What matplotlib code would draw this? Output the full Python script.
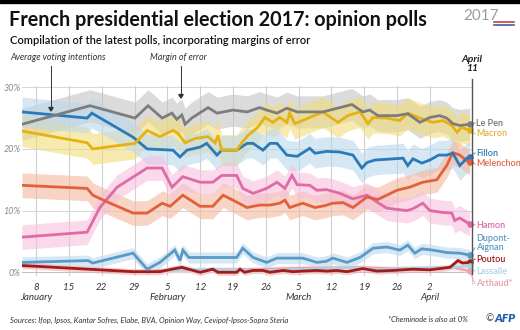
import matplotlib
matplotlib.use("Agg")
import matplotlib.pyplot as plt
import numpy as np
from matplotlib.lines import Line2D
from matplotlib.patches import Rectangle

plt.rcParams['font.family'] = ['Lato', 'DejaVu Sans']

# ---------------- data (x = day of year 2017, values in %) ----------------
lepen_x = [5, 19.5, 29.1, 31.9, 34.9, 37, 38, 39.1, 39.8, 41.2, 44.7, 46.6, 50, 53, 55.7, 57.2, 59.4,
           61.5, 63.7, 66.4, 69.2, 72.8, 75.4, 77.7, 79.2, 80.9, 85, 87.3, 89.9, 92, 94.1, 95.6, 96.9, 98.4, 100.5]
lepen_y = [24, 27, 25, 27, 25, 25.8, 24.8, 25.5, 24, 25, 26.7, 25.8, 26.3, 26, 26.7, 26.3, 25.8,
           26.6, 26, 26, 26, 26.7, 27.2, 26, 26.3, 25.4, 25.4, 25.7, 24.3, 25.1, 25.4, 25, 24.1, 23.8, 24]

macron_x = [5, 18.9, 20.1, 29.1, 31.7, 34.4, 37.2, 38.3, 39.8, 41.9, 44.7, 46.2, 46.8, 47.6, 50.8, 51.9,
            53.2, 55.3, 56.8, 58.5, 60, 61.5, 62.1, 63.2, 66.4, 69.2, 72.4, 74.5, 77.1, 78.8, 79.9, 82.8,
            85.6, 87.3, 89.9, 92.6, 94.8, 96.7, 97.8, 98.8, 100.5]
macron_y = [22.9, 21, 20, 20.9, 23, 22, 23, 22.5, 21, 21.7, 22, 21, 22.2, 19.8, 19.8, 21,
            22.2, 23.5, 25.1, 24.3, 25.1, 24.3, 25.8, 24.1, 25.1, 26, 24.3, 25.4, 26, 24.1, 25.1, 25,
            24.6, 25.8, 25, 24.3, 24.6, 23.8, 22.7, 23.5, 23]

fillon_x = [5, 18.9, 19.9, 28.7, 31.7, 37.2, 38.7, 40.2, 43, 44.4, 46.6, 47.6, 50.8, 53, 54.3, 56.4,
            57.9, 59.4, 61.5, 63.7, 66.4, 67.5, 70, 72.8, 75.6, 77.5, 78.6, 80.3, 86.3, 87.3, 88.4,
            90.3, 92, 93.9, 95.6, 96.9, 98.4, 99.9, 100.5]
fillon_y = [26, 25, 25.8, 21.9, 20, 19.8, 18.7, 19.8, 20.3, 20.9, 19, 19.8, 19.8, 20.9, 20.9, 19.8,
            20.9, 20.9, 19, 18.8, 20.1, 19.3, 19.6, 19.5, 19, 16.9, 17.8, 18.2, 18.5, 17.3, 18.4,
            17.7, 18.2, 19, 19, 19.3, 17.3, 18.5, 18.7]

melenchon_x = [5, 18.9, 20.1, 23.8, 28.7, 31.7, 34.9, 36.6, 39.3, 43, 45.7, 47.9, 50, 53, 55.7, 57.9,
               60, 61.1, 62.1, 64.9, 67.5, 69.6, 71.3, 73.5, 75.6, 78.6, 80.9, 82.8, 85, 87.7, 90.5,
               93.5, 95.6, 96.9, 98.4, 99.5, 100.5]
melenchon_y = [14.1, 13.6, 12.5, 11.2, 9.6, 9.6, 11.2, 10.7, 12.5, 10.7, 10.7, 12.5, 11.7, 10.5, 10.9, 10.9,
               11.2, 11.7, 10.5, 11.2, 10.5, 10.8, 11.2, 11.3, 10.5, 12.2, 11.8, 12.5, 13.3, 13.8, 14.6,
               15, 17.3, 19.4, 19, 18.3, 17.8]

hamon_x = [5, 18.9, 21.6, 25.3, 31.7, 34.9, 37, 39.3, 43, 45.7, 47.6, 50.8, 52.1, 54.3, 57.2, 59.4,
           61.1, 62.6, 63.7, 66.4, 67.9, 70, 72.8, 75.6, 78.6, 80.9, 82.8, 87.1, 88.4, 90.5, 92, 94.8,
           96.7, 97.3, 98.4, 99.9, 100.5]
hamon_y = [5.7, 6.5, 10.5, 13.8, 16.9, 16.9, 13.8, 15.5, 14.6, 14.6, 15.7, 15.7, 13.6, 12.8, 13.6, 14.6,
           13.6, 15.7, 14.2, 14.1, 13.3, 13.4, 12.8, 11.9, 12.5, 11.3, 10.4, 10, 10.3, 11.2, 10, 9.7,
           9.6, 8.4, 8.8, 8.1, 7.9]

dupont_x = [5, 19.1, 20.1, 28.7, 31.7, 34.4, 37.6, 38.7, 39.3, 40.6, 50.8, 52.1, 54.3, 57.2, 59.4, 64.9,
            67.9, 70, 71.3, 74.3, 77.1, 79.9, 82.8, 85.6, 87.3, 88.8, 90.3, 92.6, 95.6, 98.4, 100.5]
dupont_y = [1.6, 1.9, 1.5, 3.1, 0.5, 1.6, 3.6, 1.9, 3.6, 2.4, 2.4, 3.9, 2.4, 1.6, 2.3, 2.3,
            1.6, 1.8, 2.3, 1.6, 2.4, 3.9, 4.1, 3.6, 4.4, 3.1, 3.8, 3.6, 3.2, 3.1, 2.8]

poutou_x = [5, 28.7, 34.4, 37.6, 39.1, 43, 45.7, 46.8, 50.8, 51.5, 52.5, 54.3, 56.4, 57.9, 60.7, 62.8,
            64.9, 67.9, 70, 72.2, 74.3, 77.7, 80.7, 84.1, 88.4, 92, 94.1, 96.3, 98, 99, 100.5]
poutou_y = [1.1, 0.1, 0.1, 0.6, 0.8, 0, 0.5, 0, 0, 0.5, 0, 0.3, 0.3, 0, 0.3, 0.1,
            0.2, 0.3, 0.2, 0.3, 0.1, 0.6, 0.2, 0.3, 0.5, 0.4, 0.6, 0.8, 1.9, 1.5, 1.6]

lassalle_x = [35, 45, 55, 65, 75, 80, 90, 96, 100.5]
lassalle_y = [0.3, 0.5, 0.3, 0.5, 0.8, 0.5, 0.7, 0.8, 1.0]

arthaud_x = [34, 45, 55, 65, 77, 85, 92, 97, 100.5]
arthaud_y = [0.3, 0.4, 0.5, 0.7, 0.8, 0.6, 0.7, 0.8, 0.2]

candidates = ["Le Pen", "Macron", "Fillon", "Melenchon", "Hamon", "Dupont-\nAignan",
              "Poutou", "Lassalle", "Arthaud*"]
series_x = [lepen_x, macron_x, fillon_x, melenchon_x, hamon_x, dupont_x, poutou_x, lassalle_x, arthaud_x]
series_y = [lepen_y, macron_y, fillon_y, melenchon_y, hamon_y, dupont_y, poutou_y, lassalle_y, arthaud_y]

# margin of error half-width in % points
margins = [2.6, 2.5, 2.4, 2.0, 2.0, 0.9, 0.5, 0.4, 0.4]

tick_days = [8, 15, 22, 29, 36, 43, 50, 57, 64, 71, 78, 85, 92]
tick_labels = ["8\nJanuary", "15", "22", "29", "5\nFebruary", "12", "19", "26",
               "5\nMarch", "12", "19", "26", "2\nApril"]
ytick_vals = [0, 10, 20, 30]
ytick_labels = ["0%", "10%", "20%", "30%"]

# ---------------- styles ----------------
line_colors = ["#7d7d7d", "#e6b212", "#2a7ab8", "#e2603c", "#e06aa6", "#5a9ac6",
               "#a31b1b", "#a6d3e8", "#f0a2aa"]
band_colors = ["#c4c4c4", "#f2dc7a", "#bcd8ee", "#f4b89e", "#f6c0dc", "#bcd9ee",
               "#f2b0b0", "#d3eaf4", "#f8d0d4"]
label_colors = ["#6e6e6e", "#e0b03a", "#2a78b5", "#e06448", "#d96aa5", "#5d98c2",
                "#9e1b1b", "#a9d3e6", "#ea9ea8"]
label_ypx = [123, 134, 153, 164, 225, 243, 259, 271, 284]
line_widths = [2.0, 2.0, 2.0, 2.0, 2.0, 2.0, 2.0, 1.6, 1.6]

W, H = 520, 330
fig = plt.figure(figsize=(W / 100, H / 100), dpi=100)
fig.patch.set_facecolor("white")

ax_left, ax_right, ax_top, ax_bot = 22, 472, 86, 276
ax = fig.add_axes([ax_left / W, 1 - ax_bot / H, (ax_right - ax_left) / W, (ax_bot - ax_top) / H])
ax.set_xlim(5, 101)
ax.set_ylim(-0.6, 30.2)
for s in ax.spines.values():
    s.set_visible(False)

# grid
for d in tick_days:
    ax.axvline(d, color="#cfcfcf", lw=0.8, zorder=0)
for v in ytick_vals:
    ax.axhline(v, color="#d6d6d6" if v else "#bdbdbd", lw=0.7, zorder=0)

# bands
order = list(range(len(candidates)))
for i in order:
    x = np.array(series_x[i]); y = np.array(series_y[i])
    ax.fill_between(x, np.clip(y - margins[i], -0.5, None), y + margins[i],
                    color=band_colors[i], alpha=0.6, lw=0, zorder=1)
# lines
for i in reversed(order):
    ax.plot(series_x[i], series_y[i], color=line_colors[i], lw=line_widths[i],
            solid_joinstyle="miter", zorder=3 + (9 - i) * 0.01)

ax.set_xticks(tick_days)
ax.set_xticklabels(tick_labels, fontsize=7, style="italic", color="#333333", linespacing=1.1)
ax.set_yticks(ytick_vals)
ax.set_yticklabels(ytick_labels, fontsize=6.5, style="italic", color="#8a8a8a")
ax.tick_params(axis="both", length=0)
ax.tick_params(axis="x", pad=5)
ax.tick_params(axis="y", pad=1)

fig.canvas.draw()
to_fig = fig.transFigure.inverted()

def px(xp, yp):
    return xp / W, 1 - yp / H

# end dots and connectors
for i in order:
    xe, ye = series_x[i][-1], series_y[i][-1]
    fx, fy = to_fig.transform(ax.transData.transform((xe, ye)))
    lx, ly = px(475, label_ypx[i] if i != 5 else 248)
    fig.add_artist(Line2D([fx, lx], [fy, ly], color=line_colors[i], lw=0.8, alpha=0.8))
    ax.scatter([xe], [ye], s=14, color=line_colors[i], zorder=6, clip_on=False)
    fig.text(476 / W, 1 - label_ypx[i] / H, candidates[i], color=label_colors[i],
             fontsize=6.5, fontweight="semibold", va="center", ha="left", linespacing=1.0)

# April 11 vertical line
fig.add_artist(Line2D([472 / W, 472 / W], [1 - 79 / H, 1 - 274 / H], color="#555555", lw=1.0))
fig.add_artist(Line2D([472 / W, 472 / W], [1 - 275 / H, 1 - 284 / H], color="#888888", lw=0.7, ls=":"))
fig.text(472 / W, 1 - 64 / H, "April\n11", ha="center", va="center", fontsize=7.5,
         fontweight="bold", style="italic", color="#222222", linespacing=1.0)

# annotations
fig.text(10 / W, 1 - 58 / H, "Average voting intentions", fontsize=6.5, style="italic",
         color="#333333", va="center")
fig.text(150 / W, 1 - 58 / H, "Margin of error", fontsize=6.5, style="italic",
         color="#333333", va="center")
for xa, y0, y1 in [(51, 66, 111), (181, 66, 98)]:
    fig.add_artist(Line2D([xa / W, xa / W], [1 - y0 / H, 1 - (y1 - 3) / H], color="#333333", lw=0.7))
    fig.patches.append(plt.Polygon([[ (xa - 2.2) / W, 1 - (y1 - 3.5) / H], [(xa + 2.2) / W, 1 - (y1 - 3.5) / H],
                                    [xa / W, 1 - y1 / H]], closed=True, color="#333333",
                                   transform=fig.transFigure, figure=fig))

# title and subtitle
fig.patches.append(Rectangle((0, 1 - 3 / H), 1, 3 / H, color="black", transform=fig.transFigure, figure=fig))
fig.text(9 / W, 1 - 20 / H, "French presidential election 2017: opinion polls", fontsize=14.2,
         fontweight="bold", color="#111111", va="center")
fig.text(10 / W, 1 - 40 / H, "Compilation of the latest polls, incorporating margins of error",
         fontsize=8, fontweight="semibold", color="#111111", va="center")

# logo
fig.text(481 / W, 1 - 16 / H, "2017", fontsize=11, color="#9c9c9c", va="center", ha="center")
fig.add_artist(Line2D([494 / W, 514 / W], [1 - 22 / H, 1 - 22 / H], color="#d04040", lw=1.2))
fig.add_artist(Line2D([494 / W, 514 / W], [1 - 25 / H, 1 - 25 / H], color="#3a5fa0", lw=1.2))

# footer
fig.text(10 / W, 1 - 320 / H, "Sources: Ifop, Ipsos, Kantar Sofres, Elabe, BVA, Opinion Way, Cevipof-Ipsos-Sopra Steria",
         fontsize=5.5, style="italic", color="#333333", va="center")
fig.text(388 / W, 1 - 320 / H, "*Cheminode is also at 0%", fontsize=5.5, style="italic",
         color="#333333", va="center")
fig.text(486 / W, 1 - 319 / H, "©", fontsize=7, color="#444444", va="center")
fig.text(495 / W, 1 - 319 / H, "AFP", fontsize=8.5, fontweight="heavy", style="italic",
         color="#1f5fae", va="center")

fig.savefig("out.png", dpi=100)
